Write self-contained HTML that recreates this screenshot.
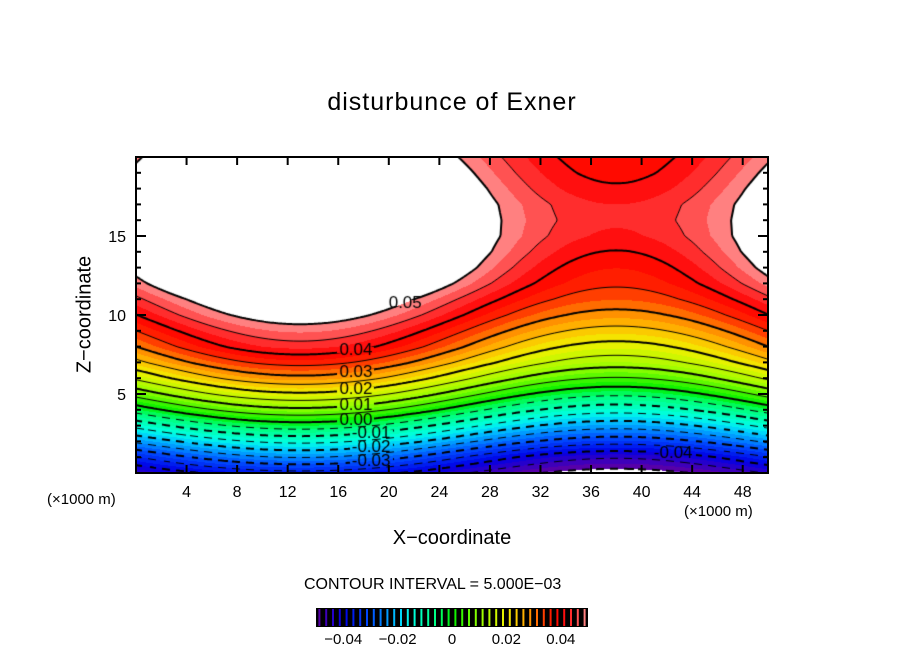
<!DOCTYPE html>
<html><head><meta charset="utf-8"><style>
body{margin:0;background:#fff;width:904px;height:654px;position:relative;overflow:hidden;font-family:"Liberation Sans",sans-serif}
.t{position:absolute;white-space:nowrap;color:#000}
canvas{position:absolute}
</style></head><body>
<div class="t" style="left:0;width:904px;text-align:center;top:88px;font-size:25px;letter-spacing:1px">disturbunce of Exner</div>
<div class="t" style="left:-5px;top:303px;width:180px;text-align:center;font-size:20px;transform:rotate(-90deg);transform-origin:center">Z−coordinate</div>
<div class="t" style="left:352px;width:200px;text-align:center;top:527px;font-size:20px">X−coordinate</div>
<div class="t" style="left:47px;top:491px;font-size:15px">(×1000 m)</div>
<div class="t" style="left:684px;top:503px;font-size:15px">(×1000 m)</div>
<div class="t" style="left:304px;top:576px;font-size:16px">CONTOUR INTERVAL = 5.000E−03</div>
<canvas id="plot" width="632" height="316" style="left:136px;top:157px"></canvas>
<svg id="ov" width="904" height="654" style="position:absolute;left:0;top:0"></svg>
<script>
const zNodes=[0,1,2,3,4,5,6,7,8,9,10,11,12,13,14,15,16,17,18,19,20];
const valleyProfile=[-0.0365,-0.0248,-0.0138,-0.0024,0.0088,0.0192,0.0287,0.0366,0.0434,0.048,0.0528,0.057,0.063,0.068,0.070,0.069,0.067,0.067,0.067,0.065,0.062];
const humpProfile=[-0.052,-0.0445,-0.033,-0.023,-0.013,-0.004,0.0046,0.0124,0.0182,0.0235,0.0285,0.0327,0.0357,0.0376,0.0398,0.042,0.043,0.0425,0.0405,0.039,0.038];
const humpCenter=38, period=50;
const xTicks=[4,8,12,16,20,24,28,32,36,40,44,48];
const zTicks=[5,10,15];
const cbTicks=[-0.04,-0.02,0,0.02,0.04];
const labelLevels=[0.05,0.04,0.03,0.02,0.01,0,-0.01,-0.02,-0.03,-0.04];
const labelXs=[21.3,17.4,17.4,17.4,17.4,17.4,18.6,18.6,18.6,42.5];
const X0=136,Y0=157,W=632,H=316,XMAX=50,ZMAX=20;
const sx=x=>X0+x/XMAX*W, sy=z=>Y0+H-z/ZMAX*H;
function prof(arr,z){z=Math.max(0,Math.min(20,z));let i=Math.min(19,Math.floor(z));let f=z-i;return arr[i]*(1-f)+arr[i+1]*f;}
function field(x,z){const v=prof(valleyProfile,z),h0=prof(humpProfile,z);const h=(1+Math.cos(2*Math.PI*(x-humpCenter)/period))/2;return v-(v-h0)*h;}
const stops=[[-0.05,100,0,160],[-0.04,0,0,230],[-0.03,0,80,255],[-0.02,0,200,255],[-0.015,0,255,230],[-0.005,0,255,120],[0,0,240,0],[0.01,150,255,0],[0.02,240,240,0],[0.025,255,190,0],[0.03,255,130,0],[0.035,255,40,0],[0.04,255,0,0],[0.045,255,60,60],[0.05,255,150,150]];
function col(v){if(v<-0.05||v>0.05)return[255,255,255];v=Math.floor(v/0.0025)*0.0025+0.00125;for(let i=0;i<stops.length-1;i++){const a=stops[i],b=stops[i+1];if(v<=b[0]){const f=(v-a[0])/(b[0]-a[0]);return[a[1]+(b[1]-a[1])*f,a[2]+(b[2]-a[2])*f,a[3]+(b[3]-a[3])*f];}}return[255,150,150];}
const cv=document.getElementById('plot'),ctx=cv.getContext('2d');
const img=ctx.createImageData(W,H);
for(let j=0;j<H;j++)for(let i=0;i<W;i++){const x=(i+0.5)/W*XMAX,z=(H-j-0.5)/H*ZMAX;const c=col(field(x,z));const k=(j*W+i)*4;img.data[k]=c[0];img.data[k+1]=c[1];img.data[k+2]=c[2];img.data[k+3]=255;}
ctx.putImageData(img,0,0);
const step=2,nx=W/step,nz=H/step;const g=[];
for(let j=0;j<=nz;j++){g[j]=[];for(let i=0;i<=nx;i++)g[j][i]=field(i*step/W*XMAX,(H-j*step)/H*ZMAX);}
ctx.strokeStyle='#000';
for(let L=-0.05;L<=0.0501;L+=0.005){const lev=Math.round(L*1000)/1000;const thick=Math.abs(Math.round(lev*1000)%10)===0;ctx.lineWidth=thick?2:1;ctx.beginPath();
for(let j=0;j<nz;j++)for(let i=0;i<nx;i++){const v=[g[j][i],g[j][i+1],g[j+1][i+1],g[j+1][i]];const p=[[i,j],[i+1,j],[i+1,j+1],[i,j+1]];const pts=[];
for(let e=0;e<4;e++){const a=v[e],b=v[(e+1)%4];if((a<lev)!==(b<lev)){const f=(lev-a)/(b-a);const pa=p[e],pb=p[(e+1)%4];pts.push([(pa[0]+(pb[0]-pa[0])*f)*step,(pa[1]+(pb[1]-pa[1])*f)*step]);}}
for(let q=0;q+1<pts.length;q+=2){if(lev<0&&Math.floor(pts[q][0]/7)%2===1)continue;ctx.moveTo(pts[q][0],pts[q][1]);ctx.lineTo(pts[q+1][0],pts[q+1][1]);}}
ctx.stroke();}
ctx.font='17px "Liberation Sans", sans-serif';ctx.textAlign='center';ctx.textBaseline='middle';
labelLevels.forEach((lev,k)=>{const x=labelXs[k];let lo=0,hi=20;for(let it=0;it<40;it++){const m=(lo+hi)/2;if(field(x,m)<lev)lo=m;else hi=m;}const px=x/XMAX*W,py=H-lo/ZMAX*H;const txt=lev===0?'0.00':lev.toFixed(2);const tw=ctx.measureText(txt).width;
ctx.putImageData(img,0,0,Math.round(px-tw/2-2),Math.round(py-3),Math.round(tw+4),6);
ctx.fillStyle='#000';ctx.fillText(txt,px,py);});
const ns='http://www.w3.org/2000/svg',ov=document.getElementById('ov');
function el(t,a,txt){const e=document.createElementNS(ns,t);for(const k in a)e.setAttribute(k,a[k]);if(txt!==undefined)e.textContent=txt;ov.appendChild(e);return e;}
let fr=el('rect',{x:X0,y:Y0,width:W,height:H,fill:'none',stroke:'#000','stroke-width':2});


xTicks.forEach(t=>{const x=sx(t);el('line',{x1:x,y1:Y0+H,x2:x,y2:Y0+H-8,stroke:'#000','stroke-width':2});el('line',{x1:x,y1:Y0,x2:x,y2:Y0+8,stroke:'#000','stroke-width':2});
const tl=el('text',{x:x,y:Y0+H+24,'text-anchor':'middle','font-size':16,'font-family':'Liberation Sans, sans-serif'},String(t));

});
for(let z=1;z<20;z++){const y=sy(z),len=z%5===0?10:5;el('line',{x1:X0,y1:y,x2:X0+len,y2:y,stroke:'#000','stroke-width':2});el('line',{x1:X0+W,y1:y,x2:X0+W-len,y2:y,stroke:'#000','stroke-width':2});}
zTicks.forEach(t=>{const tl=el('text',{x:X0-10,y:sy(t)+6,'text-anchor':'end','font-size':16,'font-family':'Liberation Sans, sans-serif'},String(t));

});
const CB0=316,CB1=588,CBY=608,CBH=19;const cbx=v=>CB0+(v+0.05)/0.1*(CB1-CB0);
let cbr=el('rect',{x:CB0,y:CBY,width:CB1-CB0,height:CBH,fill:'#000'});


for(let v=-0.05;v<0.05-1e-9;v+=0.0025){const c=col(v+0.001);const x=cbx(v+0.00125);el('line',{x1:x,y1:CBY+1,x2:x,y2:CBY+CBH-1,stroke:`rgb(${c.map(Math.round).join(',')})`,'stroke-width':2});}
cbTicks.forEach(t=>{const tl=el('text',{x:cbx(t),y:CBY+CBH+17,'text-anchor':'middle','font-size':15,'font-family':'Liberation Sans, sans-serif'},t===0?'0':(t<0?'\u2212':'')+Math.abs(t).toFixed(2));

});
</script>
</body></html>
